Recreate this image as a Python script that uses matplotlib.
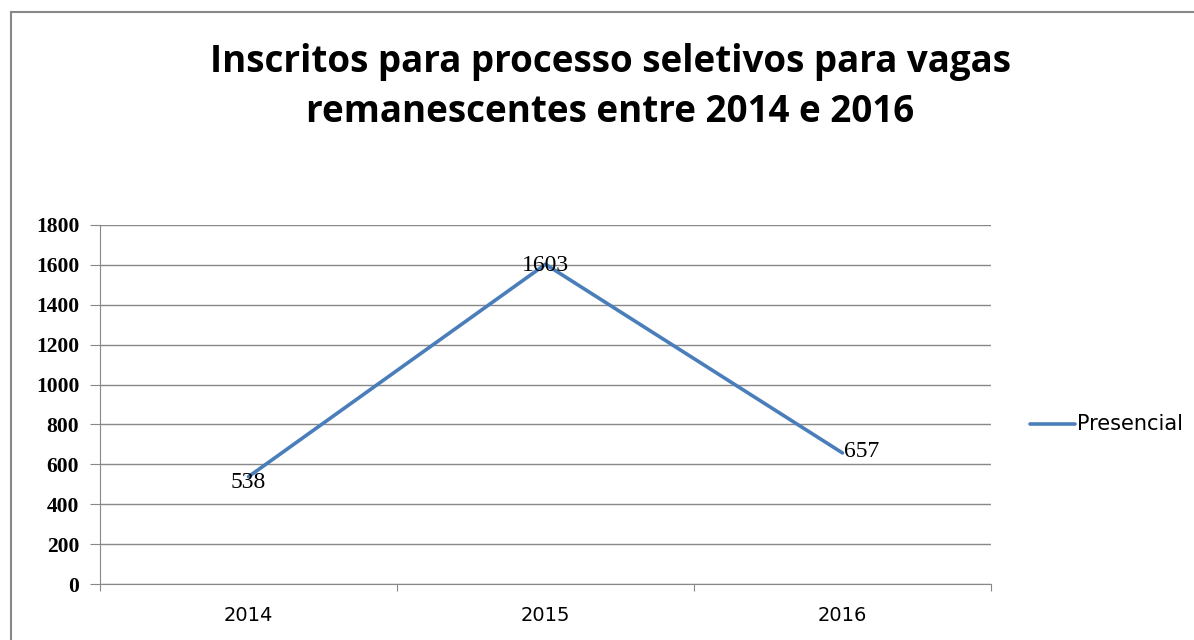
import matplotlib.pyplot as plt
from matplotlib.patches import Rectangle
from matplotlib.lines import Line2D

anos = ["2014", "2015", "2016"]
presencial = [538, 1603, 657]
yticks = [0, 200, 400, 600, 800, 1000, 1200, 1400, 1600, 1800]

fig = plt.figure(figsize=(11.94, 6.4), dpi=100)
ax = fig.add_axes([100 / 1194, 1 - 584 / 640, 891 / 1194, 359 / 640])

x = list(range(len(anos)))
ax.plot(x, presencial, color="#4A7EBB", lw=2.6, solid_capstyle="round", zorder=3)

# data labels
offsets = [(0, -4), (0, -1), (14, 1)]
for xi, v, (dx, dy) in zip(x, presencial, offsets):
    ax.annotate(str(v), (xi, v), xytext=(dx, dy), textcoords="offset points",
                ha="center", va="center", fontsize=17, family="Liberation Serif",
                zorder=4)

ax.set_xlim(-0.5, 2.5)
ax.set_ylim(0, 1800)
ax.set_yticks(yticks)
ax.set_yticklabels([str(t) for t in yticks], fontsize=15.5, family="Liberation Serif",
                   fontweight="bold")
ax.yaxis.grid(True, color="#888888", lw=1)
ax.set_axisbelow(True)

# categories centered, ticks at boundaries
ax.set_xticks([-0.5, 0.5, 1.5, 2.5])
ax.set_xticklabels([])
ax.set_xticks(x, minor=True)
ax.set_xticklabels(anos, minor=True, fontsize=14, family="DejaVu Sans")
ax.tick_params(axis="x", which="major", length=5, color="#888888", direction="out")
ax.tick_params(axis="x", which="minor", length=0, pad=16)
ax.tick_params(axis="y", length=7, color="#888888", pad=8)

for s in ["top", "right"]:
    ax.spines[s].set_visible(False)
for s in ["left", "bottom"]:
    ax.spines[s].set_color("#888888")

fig.text(610 / 1194, 1 - 62 / 640, "Inscritos para processo seletivos para vagas",
         ha="center", va="center", fontsize=26.5, family="Open Sans", fontweight="bold")
fig.text(610 / 1194, 1 - 112 / 640, "remanescentes entre 2014 e 2016",
         ha="center", va="center", fontsize=26.5, family="Open Sans", fontweight="bold")

# legend
fig.add_artist(Line2D([1030 / 1194, 1075 / 1194], [1 - 424 / 640] * 2,
                      color="#4A7EBB", lw=2.6, solid_capstyle="round"))
fig.text(1077 / 1194, 1 - 424 / 640, "Presencial", ha="left", va="center",
         fontsize=15, family="DejaVu Sans")

# chart border
fig.add_artist(Rectangle((11 / 1194, -0.05), 1.2, 1 - 12 / 640 + 0.05,
                         transform=fig.transFigure, fill=False,
                         edgecolor="#888888", lw=1.5))

fig.savefig("out.png", dpi=100)
